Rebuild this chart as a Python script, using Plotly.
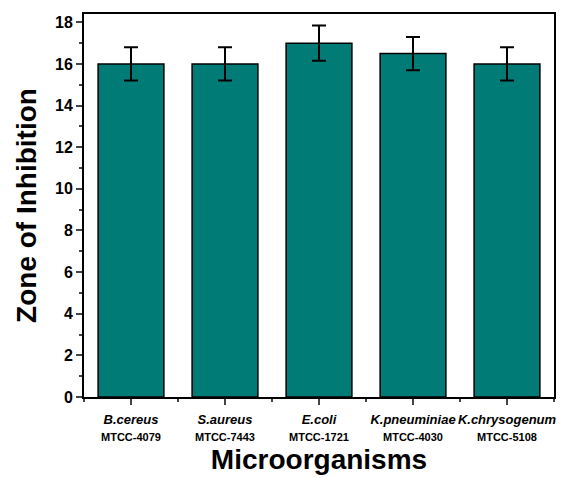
import plotly.graph_objects as go

organisms = ["B.cereus", "S.aureus", "E.coli", "K.pneuminiae", "K.chrysogenum"]
strains = ["MTCC-4079", "MTCC-7443", "MTCC-1721", "MTCC-4030", "MTCC-5108"]
zone = [16.0, 16.0, 17.0, 16.5, 16.0]
err = [0.8, 0.8, 0.85, 0.8, 0.8]

xpos = list(range(len(organisms)))
ticktext = [f"<b><i>{o}</i></b><br><span style='font-size:11px'><b>{s}</b></span>"
            for o, s in zip(organisms, strains)]

fig = go.Figure(go.Bar(
    x=xpos, y=zone, width=0.7,
    marker=dict(color="#007B76", line=dict(color="black", width=1.5)),
    error_y=dict(type="data", array=err, color="black", thickness=2, width=7),
))

fig.update_layout(
    width=564, height=470,
    margin=dict(l=76, r=18, t=6, b=81, autoexpand=False),
    paper_bgcolor="white", plot_bgcolor="white",
    font=dict(family="Liberation Sans, Arial", color="black"),
    showlegend=False,
)
fig.update_xaxes(
    range=[-0.5, 4.5], tickvals=xpos, ticktext=ticktext, tickangle=0,
    tickfont=dict(size=13), ticks="outside", ticklen=6, tickwidth=2,
    ticklabelstandoff=3,
    minor=dict(dtick=0.5, tick0=0.5, ticks="outside", ticklen=3, tickwidth=2),
    showline=True, linecolor="black", linewidth=2, mirror=True, showgrid=False,
    title=dict(text="<b>Microorganisms</b>", font=dict(size=28), standoff=8),
    zeroline=False, automargin=False,
)
fig.update_yaxes(
    range=[0, 18.4], dtick=2, tick0=0,
    tickfont=dict(size=16), tickprefix="<b>", ticksuffix="</b>",
    ticks="outside", ticklen=6, tickwidth=2,
    minor=dict(dtick=1, ticks="outside", ticklen=3, tickwidth=2),
    showline=True, linecolor="black", linewidth=2, mirror=True, showgrid=False,
    title=dict(text="<b>Zone of Inhibition</b>", font=dict(size=28), standoff=10),
    zeroline=False, automargin=False,
)

fig.write_html("out.html")
